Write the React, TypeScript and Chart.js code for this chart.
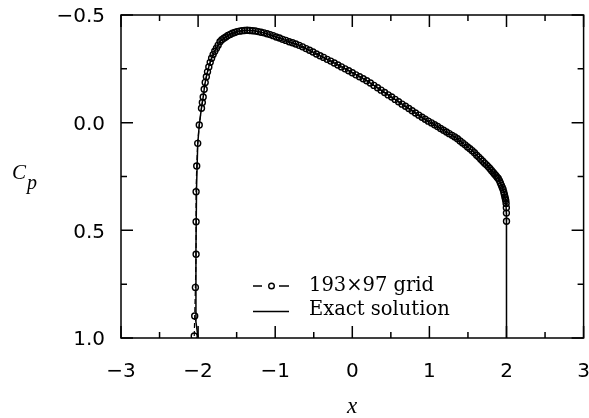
import React, { useEffect, useRef } from "react";
import { Chart, registerables } from "chart.js";

Chart.register(...registerables);

// 193x97 grid: surface points (x, Cp)
const GRID_X = [
  -2.05, -2.044, -2.035, -2.026, -2.026, -2.026, -2.018, -2.005, -1.985,
  -1.956, -1.945, -1.934, -1.921, -1.908, -1.893, -1.878, -1.861, -1.843, -1.825,
  -1.805, -1.784, -1.762, -1.74, -1.716, -1.692, -1.666, -1.64, -1.613, -1.584,
  -1.555, -1.525, -1.495, -1.463, -1.431, -1.398, -1.364, -1.329, -1.294, -1.257,
  -1.221, -1.183, -1.145, -1.106, -1.067, -1.027, -0.986, -0.945, -0.904, -0.862,
  -0.819, -0.776, -0.733, -0.689, -0.645, -0.6, -0.555, -0.51, -0.465, -0.419,
  -0.373, -0.327, -0.28, -0.234, -0.187, -0.141, -0.094, -0.047, 0.0,
  0.047, 0.094, 0.141, 0.187, 0.234, 0.28, 0.327, 0.373, 0.419, 0.465,
  0.51, 0.555, 0.6, 0.645, 0.689, 0.733, 0.776, 0.819, 0.862, 0.904,
  0.945, 0.986, 1.027, 1.067, 1.106, 1.145, 1.183, 1.221, 1.257, 1.294,
  1.329, 1.364, 1.398, 1.431, 1.463, 1.495, 1.525, 1.555, 1.584, 1.613,
  1.64, 1.666, 1.692, 1.716, 1.74, 1.762, 1.784, 1.805, 1.825, 1.843,
  1.861, 1.878, 1.893, 1.908, 1.921, 1.934, 1.945, 1.956, 1.965, 1.973,
  1.98, 1.986, 1.991, 1.995, 1.998, 1.999, 2.0,
];
const GRID_CP = [
  0.991, 0.898, 0.765, 0.611, 0.46, 0.321, 0.201, 0.096, 0.011,
  -0.067, -0.094, -0.119, -0.155, -0.187, -0.213, -0.236, -0.259, -0.28, -0.299,
  -0.316, -0.332, -0.346, -0.36, -0.376, -0.385, -0.392, -0.398, -0.405, -0.41,
  -0.415, -0.419, -0.423, -0.425, -0.427, -0.428, -0.429, -0.428, -0.427, -0.426,
  -0.423, -0.42, -0.417, -0.413, -0.409, -0.404, -0.398, -0.393, -0.387, -0.382,
  -0.376, -0.371, -0.365, -0.359, -0.352, -0.344, -0.336, -0.328, -0.319, -0.311,
  -0.303, -0.294, -0.286, -0.277, -0.268, -0.259, -0.25, -0.241, -0.232,
  -0.222, -0.213, -0.204, -0.195, -0.184, -0.173, -0.162, -0.151, -0.14, -0.129,
  -0.119, -0.108, -0.097, -0.086, -0.076, -0.066, -0.055, -0.045, -0.035, -0.025,
  -0.016, -0.007, 0.001, 0.01, 0.018, 0.027, 0.035, 0.043, 0.051, 0.059,
  0.066, 0.075, 0.085, 0.094, 0.103, 0.113, 0.121, 0.13, 0.14, 0.151,
  0.16, 0.17, 0.179, 0.188, 0.196, 0.204, 0.213, 0.222, 0.23, 0.238,
  0.245, 0.253, 0.259, 0.269, 0.28, 0.291, 0.301, 0.31, 0.323, 0.335,
  0.345, 0.354, 0.362, 0.375, 0.395, 0.42, 0.458,
];

// Exact solution (x, Cp)
const EXACT_X = [
  -2.0, -2.03, -2.028, -2.02, -2.005, -1.985, -1.957, -1.931, -1.914, -1.888,
  -1.857, -1.827, -1.792, -1.749, -1.706, -1.6, -1.49, -1.38, -1.273, -1.1,
  -0.992, -0.681, -0.252, 0.182, 0.904, 1.338, 1.553, 1.77, 1.9, 1.956,
  1.99, 1.999, 2.0, 2.0,
];
const EXACT_CP = [
  1.0, 0.92, 0.6, 0.3, 0.1, 0.011, -0.067, -0.126, -0.176, -0.222,
  -0.265, -0.297, -0.327, -0.354, -0.382, -0.408, -0.424, -0.429, -0.427, -0.413,
  -0.399, -0.358, -0.281, -0.196, -0.025, 0.068, 0.129, 0.207, 0.262, 0.31,
  0.36, 0.42, 0.46, 1.0,
];

const X_MAJOR = [-3, -2, -1, 0, 1, 2, 3];
const X_MINOR = [-2.5, -1.5, -0.5, 0.5, 1.5, 2.5];
const Y_MAJOR = [-0.5, 0, 0.5, 1.0];
const Y_MINOR = [-0.25, 0.25, 0.75];

const LEGEND_LABELS = ["193\u00d797 grid", "Exact solution"];

const fmtMinus = (v: number, d: number) =>
  (v < 0 ? "\u2212" : "") + Math.abs(v).toFixed(d);

const overlay = {
  id: "overlay",
  afterDraw(chart: any) {
    const { ctx, chartArea: ca } = chart;
    const xs = chart.scales.x;
    const ys = chart.scales.y;
    ctx.save();
    ctx.strokeStyle = "#000";
    ctx.lineWidth = 1.5;
    ctx.strokeRect(ca.left, ca.top, ca.right - ca.left, ca.bottom - ca.top);
    const MAJ = 12;
    const MIN = 6;
    ctx.beginPath();
    const xt = (v: number, len: number) => {
      const p = xs.getPixelForValue(v);
      ctx.moveTo(p, ca.bottom);
      ctx.lineTo(p, ca.bottom - len);
      ctx.moveTo(p, ca.top);
      ctx.lineTo(p, ca.top + len);
    };
    const yt = (v: number, len: number) => {
      const p = ys.getPixelForValue(v);
      ctx.moveTo(ca.left, p);
      ctx.lineTo(ca.left + len, p);
      ctx.moveTo(ca.right, p);
      ctx.lineTo(ca.right - len, p);
    };
    X_MAJOR.forEach((v) => xt(v, MAJ));
    X_MINOR.forEach((v) => xt(v, MIN));
    Y_MAJOR.forEach((v) => yt(v, MAJ));
    Y_MINOR.forEach((v) => yt(v, MIN));
    ctx.stroke();

    // legend
    const lx0 = 253;
    const lx1 = 289;
    const r1 = 286;
    const r2 = 311.5;
    ctx.lineWidth = 1.4;
    ctx.beginPath();
    ctx.moveTo(lx0, r1);
    ctx.lineTo(lx0 + 9, r1);
    ctx.moveTo(lx1 - 10, r1);
    ctx.lineTo(lx1, r1);
    ctx.stroke();
    ctx.beginPath();
    ctx.arc(271.5, r1, 2.8, 0, Math.PI * 2);
    ctx.stroke();
    ctx.beginPath();
    ctx.moveTo(lx0, r2);
    ctx.lineTo(lx1, r2);
    ctx.stroke();
    ctx.fillStyle = "#000";
    ctx.font = "19.5px 'DejaVu Serif'";
    ctx.textBaseline = "alphabetic";
    ctx.textAlign = "left";
    ctx.fillText(LEGEND_LABELS[0], 309, 291);
    ctx.fillText(LEGEND_LABELS[1], 309, 315);

    // axis titles
    ctx.font = "italic 23px 'Liberation Serif'";
    ctx.textAlign = "center";
    ctx.fillText("x", 352, 413);
    ctx.textAlign = "left";
    ctx.font = "italic 21px 'Liberation Serif'";
    ctx.fillText("C", 12, 178.5);
    ctx.font = "italic 20px 'Liberation Serif'";
    ctx.fillText("p", 27, 189);
    ctx.restore();
  },
};

export default function App() {
  const ref = useRef<HTMLCanvasElement | null>(null);
  useEffect(() => {
    if (!ref.current) return;
    const grid = GRID_X.map((x, i) => ({ x, y: GRID_CP[i] }));
    const exact = EXACT_X.map((x, i) => ({ x, y: EXACT_CP[i] }));
    const tickFont = { family: "'DejaVu Sans'", size: 20 };
    const chart = new Chart(ref.current, {
      type: "scatter",
      data: {
        datasets: [
          {
            label: LEGEND_LABELS[0],
            data: grid,
            showLine: true,
            borderColor: "#000",
            borderWidth: 1.2,
            borderDash: [5, 3],
            pointRadius: 3,
            pointBorderWidth: 1.4,
            pointBorderColor: "#000",
            pointBackgroundColor: "rgba(0,0,0,0)",
            pointStyle: "circle",
          },
          {
            label: LEGEND_LABELS[1],
            data: exact,
            showLine: true,
            borderColor: "#000",
            borderWidth: 1.5,
            pointRadius: 0,
          },
        ],
      },
      options: {
        animation: false,
        responsive: true,
        maintainAspectRatio: false,
        layout: { padding: { top: 15, right: 5, left: 0, bottom: 0 } },
        plugins: {
          legend: { display: false },
          tooltip: { enabled: false },
        },
        scales: {
          x: {
            type: "linear",
            min: -3,
            max: 3,
            grid: { display: false, drawTicks: false },
            border: { display: false },
            ticks: {
              stepSize: 1,
              padding: 22,
              color: "#000",
              font: tickFont,
              maxRotation: 0,
              callback: (v: any) => fmtMinus(Number(v), 0),
            },
            afterFit: (s: any) => {
              s.height = 80;
              s.paddingLeft = 0;
              s.paddingRight = 0;
            },
          },
          y: {
            type: "linear",
            min: -0.5,
            max: 1.0,
            reverse: true,
            grid: { display: false, drawTicks: false },
            border: { display: false },
            ticks: {
              stepSize: 0.5,
              padding: 16,
              labelOffset: 2,
              color: "#000",
              font: tickFont,
              callback: (v: any) => fmtMinus(Number(v), 1),
            },
            afterFit: (s: any) => {
              s.width = 121;
              s.paddingTop = 0;
              s.paddingBottom = 0;
            },
          },
        },
      },
      plugins: [overlay],
    });
    return () => chart.destroy();
  }, []);
  return (
    <div style={{ position: "fixed", left: 0, top: 0, width: 589, height: 418, background: "#fff" }}>
      <canvas ref={ref} />
    </div>
  );
}
